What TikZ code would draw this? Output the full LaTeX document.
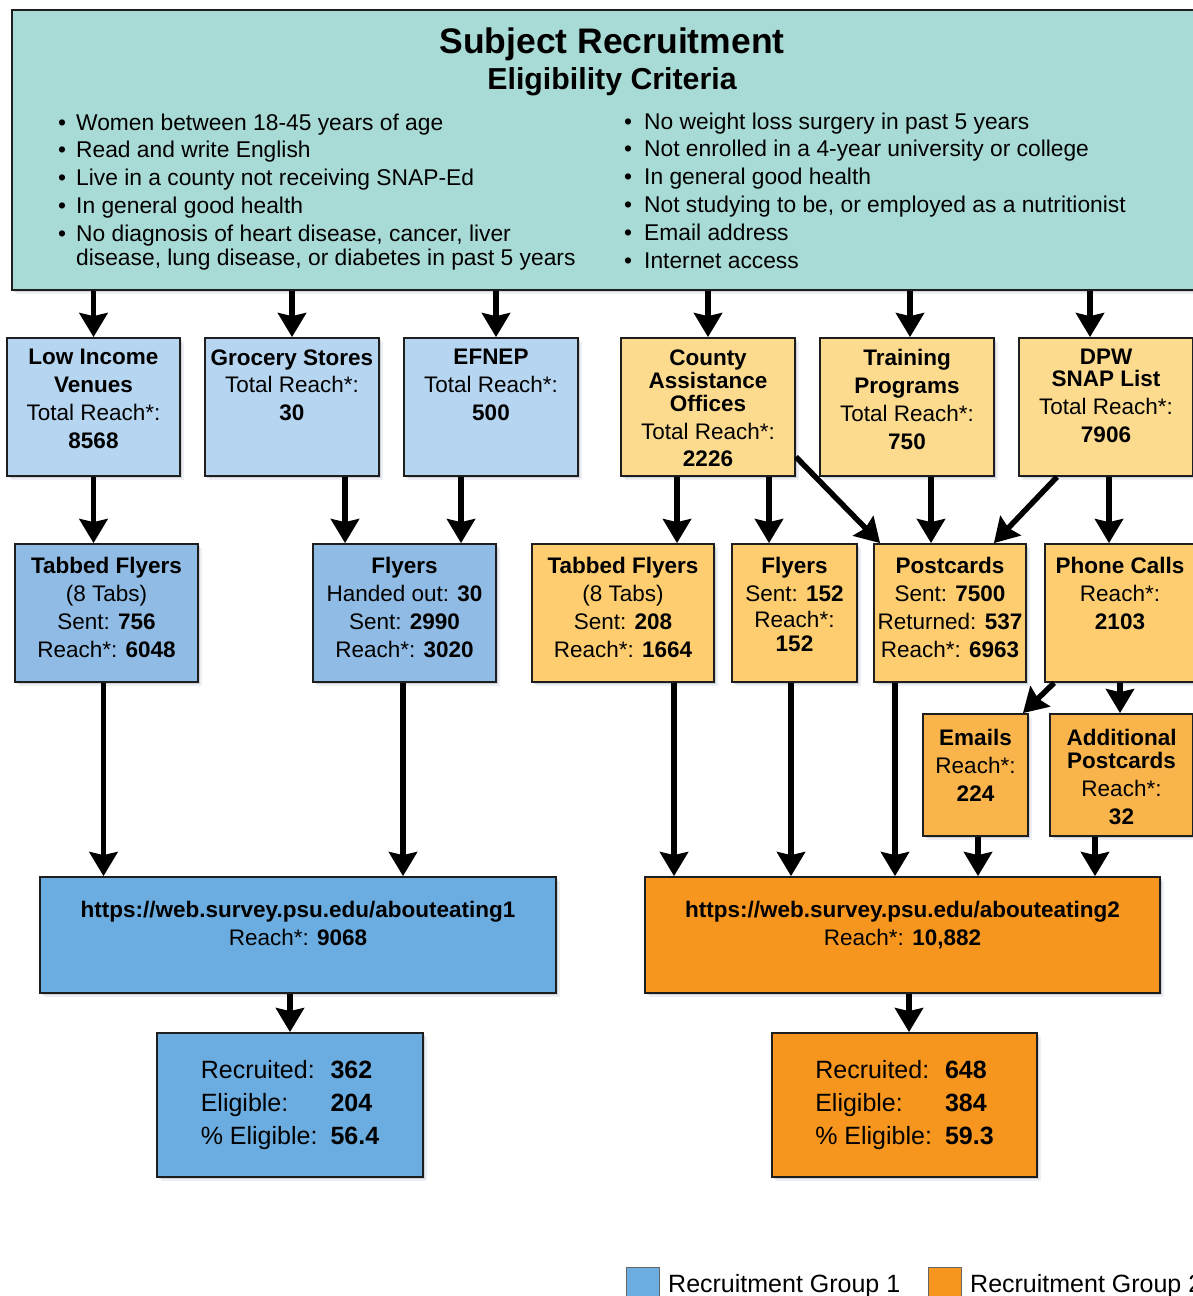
\documentclass[tikz,border=0pt]{standalone}
\usepackage{fontspec}
\setmainfont{Liberation Sans}
\usetikzlibrary{arrows.meta,shadows,calc}
\definecolor{cTop}{HTML}{A9DBD6}
\definecolor{cBa}{HTML}{B5D5F0}
\definecolor{cBb}{HTML}{8FBBE4}
\definecolor{cBc}{HTML}{6BADE0}
\definecolor{cOa}{HTML}{FDDB8E}
\definecolor{cOb}{HTML}{FDCD70}
\definecolor{cOc}{HTML}{F9B54C}
\definecolor{cOd}{HTML}{F6961F}
\definecolor{cShadow}{HTML}{6A7F99}
\definecolor{cLine}{HTML}{1E1E1E}
\begin{document}
\begin{tikzpicture}[x=1pt,y=-1pt,font=\fontsize{22.5}{27.8}\selectfont,
  shadowed/.style={drop shadow={shadow xshift=2pt,shadow yshift=-2pt,fill=cShadow,opacity=.25},
                   drop shadow={shadow xshift=4pt,shadow yshift=-4pt,fill=cShadow,opacity=.12}},
  box/.style={draw=cLine,line width=1.8pt,inner sep=0pt,shadowed},
  txt/.style={anchor=north,align=center,inner sep=0pt},
  crit/.style={anchor=base west,inner sep=0pt,font=\fontsize{22.8}{27.8}\selectfont},
  arr/.style={line width=5.5pt,draw=black,-{Stealth[length=24pt,width=28pt,inset=3pt]}},
  legsq/.style={draw=black!60,line width=1pt,minimum width=33pt,minimum height=33pt,inner sep=0pt}]
\useasboundingbox (0,0) rectangle (1193,1296);
\clip (0,0) rectangle (1193,1296);

% ---------- top box ----------
\node[box,fill=cTop,minimum width=1200pt,minimum height=280pt] (top) at (612,150) {};
\node[anchor=base,inner sep=0pt,font=\fontsize{35.5}{40}\selectfont\bfseries] (title) at (612,53) {Subject Recruitment};
\node[anchor=base,inner sep=0pt,font=\fontsize{30.3}{34}\selectfont\bfseries] (subtitle) at (612,89) {Eligibility Criteria};
\node[crit] (critL) at (58,130) {\begin{tabular}[t]{@{}l@{\hspace{10pt}}l@{}}
\textbullet & Women between 18-45 years of age\\
\textbullet & Read and write English\\
\textbullet & Live in a county not receiving SNAP-Ed\\
\textbullet & In general good health\\
\textbullet & No diagnosis of heart disease, cancer, liver\\[-3.8pt]
 & disease, lung disease, or diabetes in past 5 years
\end{tabular}};
\node[crit] (critR) at (624,129) {\begin{tabular}[t]{@{}l@{\hspace{12pt}}l@{}}
\textbullet & No weight loss surgery in past 5 years\\
\textbullet & Not enrolled in a 4-year university or college\\
\textbullet & In general good health\\
\textbullet & Not studying to be, or employed as a nutritionist\\
\textbullet & Email address\\
\textbullet & Internet access
\end{tabular}};

% ---------- row 1 ----------
\node[box,fill=cBa,minimum width=173pt,minimum height=138pt] (lowinc) at (93.5,407) {};
\node[box,fill=cBa,minimum width=174pt,minimum height=138pt] (grocery) at (292,407) {};
\node[box,fill=cBa,minimum width=174pt,minimum height=138pt] (efnep) at (491,407) {};
\node[box,fill=cOa,minimum width=174pt,minimum height=138pt] (county) at (708,407) {};
\node[box,fill=cOa,minimum width=174pt,minimum height=138pt] (training) at (907,407) {};
\node[box,fill=cOa,minimum width=174pt,minimum height=138pt] (dpw) at (1106,407) {};
\node[txt] (lowincT) at ([yshift=-12pt]lowinc.north) {\textbf{Low Income}\\\textbf{Venues}\\Total Reach*:\\\textbf{8568}};
\node[txt] (groceryT) at ([yshift=-12pt]grocery.north) {\textbf{Grocery Stores}\\Total Reach*:\\\textbf{30}};
\node[txt] (efnepT) at ([yshift=-12pt]efnep.north) {\textbf{EFNEP}\\Total Reach*:\\\textbf{500}};
\node[txt] (countyT) at ([yshift=-12pt]county.north) {\textbf{County}\\[-4.7pt]\textbf{Assistance}\\[-4.7pt]\textbf{Offices}\\Total Reach*:\\\textbf{2226}};
\node[txt] (trainingT) at ([yshift=-12pt]training.north) {\textbf{Training}\\\textbf{Programs}\\Total Reach*:\\\textbf{750}};
\node[txt] (dpwT) at ([yshift=-12pt]dpw.north) {\textbf{DPW}\\[-5.8pt]\textbf{SNAP List}\\Total Reach*:\\\textbf{7906}};

% ---------- row 2 ----------
\node[box,fill=cBb,minimum width=183pt,minimum height=138pt] (tfa) at (106.5,613) {};
\node[box,fill=cBb,minimum width=183pt,minimum height=138pt] (fla) at (404.5,613) {};
\node[box,fill=cOb,minimum width=182pt,minimum height=138pt] (tfb) at (623,613) {};
\node[box,fill=cOb,minimum width=125pt,minimum height=138pt] (flb) at (794.5,613) {};
\node[box,fill=cOb,minimum width=152pt,minimum height=138pt] (post) at (950,613) {};
\node[box,fill=cOb,minimum width=150pt,minimum height=138pt] (phone) at (1120,613) {};
\node[txt] (tfaT) at ([yshift=-14pt]tfa.north) {\textbf{Tabbed Flyers}\\(8 Tabs)\\Sent: \textbf{756}\\Reach*: \textbf{6048}};
\node[txt] (flaT) at ([yshift=-14pt]fla.north) {\textbf{Flyers}\\Handed out: \textbf{30}\\Sent: \textbf{2990}\\Reach*: \textbf{3020}};
\node[txt] (tfbT) at ([yshift=-14pt]tfb.north) {\textbf{Tabbed Flyers}\\(8 Tabs)\\Sent: \textbf{208}\\Reach*: \textbf{1664}};
\node[txt] (flbT) at ([yshift=-14pt]flb.north) {\textbf{Flyers}\\Sent: \textbf{152}\\[-1.8pt]Reach*:\\[-3.8pt]\textbf{152}};
\node[txt] (postT) at ([yshift=-14pt]post.north) {\textbf{Postcards}\\Sent: \textbf{7500}\\Returned: \textbf{537}\\Reach*: \textbf{6963}};
\node[txt] (phoneT) at ([yshift=-14pt]phone.north) {\textbf{Phone Calls}\\Reach*:\\\textbf{2103}};

% ---------- row 3 ----------
\node[box,fill=cOc,minimum width=105pt,minimum height=122pt] (emails) at (975.5,775) {};
\node[box,fill=cOc,minimum width=143pt,minimum height=122pt] (addpost) at (1121.5,775) {};
\node[txt] (emailsT) at ([yshift=-16pt]emails.north) {\textbf{Emails}\\Reach*:\\\textbf{224}};
\node[txt] (addpostT) at ([yshift=-16pt]addpost.north) {\textbf{Additional}\\[-4.8pt]\textbf{Postcards}\\Reach*:\\\textbf{32}};

% ---------- row 4 ----------
\node[box,fill=cBc,minimum width=516pt,minimum height=116pt] (urla) at (298,935) {};
\node[box,fill=cOd,minimum width=515pt,minimum height=116pt] (urlb) at (902.5,935) {};
\node[txt] (urlaT) at ([yshift=-25pt]urla.north) {\textbf{https://web.survey.psu.edu/abouteating1}\\Reach*: \textbf{9068}};
\node[txt] (urlbT) at ([yshift=-25pt]urlb.north) {\textbf{https://web.survey.psu.edu/abouteating2}\\Reach*: \textbf{10,882}};

% ---------- row 5 ----------
\node[box,fill=cBc,minimum width=266pt,minimum height=144pt,font=\fontsize{25}{33}\selectfont] (resa) at (290,1105)
 {\begin{tabular}{@{}l@{\hspace{13pt}}l@{}}Recruited: & \textbf{362}\\Eligible: & \textbf{204}\\\% Eligible: & \textbf{56.4}\end{tabular}};
\node[box,fill=cOd,minimum width=265pt,minimum height=144pt,font=\fontsize{25}{33}\selectfont] (resb) at (904.5,1105)
 {\begin{tabular}{@{}l@{\hspace{13pt}}l@{}}Recruited: & \textbf{648}\\Eligible: & \textbf{384}\\\% Eligible: & \textbf{59.3}\end{tabular}};

% ---------- legend ----------
\node[legsq,fill=cBc] (lega) at (642.5,1283.5) {};
\node[anchor=base west,inner sep=0pt,font=\fontsize{25}{30}\selectfont] (legaT) at (668,1292) {Recruitment Group 1};
\node[legsq,fill=cOd] (legb) at (944.5,1283.5) {};
\node[anchor=base west,inner sep=0pt,font=\fontsize{25}{30}\selectfont] (legbT) at (970,1292) {Recruitment Group 2};

% ---------- arrows: top -> row 1 ----------
\draw[arr] (top.south -| lowinc.north) -- (lowinc.north);
\draw[arr] (top.south -| grocery.north) -- (grocery.north);
\draw[arr] ($(top.south -| efnep.north)+(5,0)$) -- ($(efnep.north)+(5,0)$);
\draw[arr] (top.south -| county.north) -- (county.north);
\draw[arr] ($(top.south -| training.north)+(3,0)$) -- ($(training.north)+(3,0)$);
\draw[arr] ($(top.south -| dpw.north)+(-16,0)$) -- ($(dpw.north)+(-16,0)$);

% ---------- row 1 -> row 2 ----------
\draw[arr] (lowinc.south) -- (lowinc.south |- tfa.north);
\draw[arr] ($(grocery.south)+(53,0)$) -- ($(grocery.south |- fla.north)+(53,0)$);
\draw[arr] ($(efnep.south)+(-30,0)$) -- ($(efnep.south |- fla.north)+(-30,0)$);
\draw[arr] ($(county.south)+(-31,0)$) -- ($(county.south |- tfb.north)+(-31,0)$);
\draw[arr] ($(county.south)+(61,0)$) -- ($(county.south |- flb.north)+(61,0)$);
\draw[arr] ($(county.south east)+(0,-20)$) -- ($(post.north west)+(7,0)$);
\draw[arr] ($(training.south)+(24,0)$) -- ($(training.south |- post.north)+(24,0)$);
\draw[arr] ($(dpw.south)+(-49,0)$) -- ($(post.north east)+(-33,0)$);
\draw[arr] ($(dpw.south)+(3,0)$) -- ($(dpw.south |- phone.north)+(3,0)$);

% ---------- phone calls -> row 3 ----------
\draw[arr] ($(phone.south west)+(10,0)$) -- ($(emails.north east)+(-6,0)$);
\draw[arr] (phone.south) -- (phone.south |- addpost.north);

% ---------- -> url boxes ----------
\draw[arr] ($(tfa.south)+(-3,0)$) -- ($(tfa.south |- urla.north)+(-3,0)$);
\draw[arr] ($(fla.south)+(-1.5,0)$) -- ($(fla.south |- urla.north)+(-1.5,0)$);
\draw[arr] ($(tfb.south)+(51,0)$) -- ($(tfb.south |- urlb.north)+(51,0)$);
\draw[arr] ($(flb.south)+(-3.5,0)$) -- ($(flb.south |- urlb.north)+(-3.5,0)$);
\draw[arr] ($(post.south)+(-55,0)$) -- ($(post.south |- urlb.north)+(-55,0)$);
\draw[arr] ($(emails.south)+(2.5,0)$) -- ($(emails.south |- urlb.north)+(2.5,0)$);
\draw[arr] ($(addpost.south)+(-26.5,0)$) -- ($(addpost.south |- urlb.north)+(-26.5,0)$);

% ---------- url -> results ----------
\draw[arr] (resa.north |- urla.south) -- (resa.north);
\draw[arr] ($(resb.north |- urlb.south)+(4.5,0)$) -- ($(resb.north)+(4.5,0)$);
\end{tikzpicture}
\end{document}
